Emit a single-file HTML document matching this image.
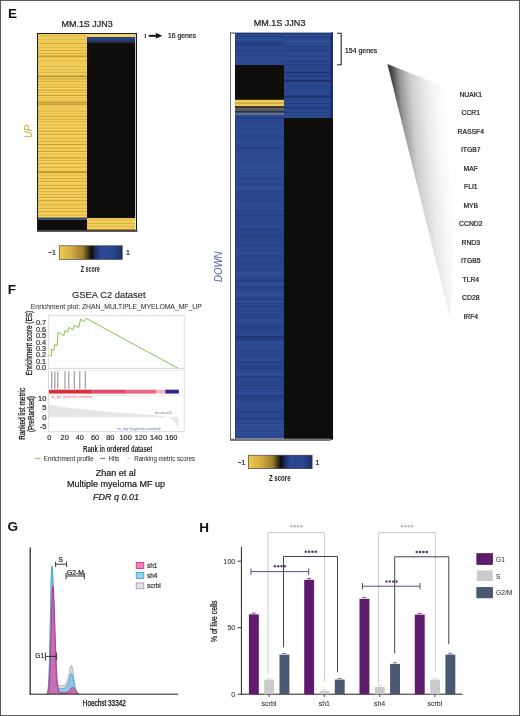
<!DOCTYPE html>
<html><head><meta charset="utf-8"><style>
html,body{margin:0;padding:0;background:#fff;}
svg{display:block;will-change:transform;}
text{font-family:"Liberation Sans",sans-serif;}
</style></head><body>
<svg width="520" height="716" viewBox="0 0 520 716">
<rect x="0" y="0" width="520" height="716" fill="#fff"/>
<text x="8.1" y="18.4" font-size="13.5" fill="#111" text-anchor="start" font-weight="bold" font-style="normal" >E</text>
<text x="61.5" y="26.6" font-size="9" fill="#222" text-anchor="start" font-weight="normal" font-style="normal" textLength="51.2" lengthAdjust="spacingAndGlyphs" stroke="#222" stroke-width="0.22" >MM.1S JJN3</text>
<rect x="38.00" y="34.00" width="49.00" height="184.00" fill="#efca55" />
<rect x="38.00" y="35.50" width="49.00" height="1.40" fill="#e2bc4c" />
<rect x="38.00" y="36.90" width="49.00" height="0.80" fill="#f7d665" />
<rect x="38.00" y="39.00" width="49.00" height="1.40" fill="#e2bc4c" />
<rect x="38.00" y="40.40" width="49.00" height="0.80" fill="#f7d665" />
<rect x="38.00" y="43.00" width="49.00" height="1.00" fill="#d2a83e" />
<rect x="38.00" y="44.00" width="49.00" height="0.80" fill="#f7d665" />
<rect x="38.00" y="47.00" width="49.00" height="1.40" fill="#e2bc4c" />
<rect x="38.00" y="48.40" width="49.00" height="0.80" fill="#f7d665" />
<rect x="38.00" y="50.00" width="49.00" height="0.80" fill="#c89c36" />
<rect x="38.00" y="50.80" width="49.00" height="0.80" fill="#f7d665" />
<rect x="38.00" y="53.20" width="49.00" height="1.00" fill="#d2a83e" />
<rect x="38.00" y="54.20" width="49.00" height="0.80" fill="#f7d665" />
<rect x="38.00" y="57.20" width="49.00" height="0.80" fill="#e2bc4c" />
<rect x="38.00" y="58.00" width="49.00" height="0.80" fill="#f7d665" />
<rect x="38.00" y="60.70" width="49.00" height="1.40" fill="#e2bc4c" />
<rect x="38.00" y="62.10" width="49.00" height="0.80" fill="#f7d665" />
<rect x="38.00" y="63.70" width="49.00" height="0.80" fill="#e2bc4c" />
<rect x="38.00" y="64.50" width="49.00" height="0.80" fill="#f7d665" />
<rect x="38.00" y="66.30" width="49.00" height="0.80" fill="#d2a83e" />
<rect x="38.00" y="67.10" width="49.00" height="0.80" fill="#f7d665" />
<rect x="38.00" y="69.30" width="49.00" height="1.00" fill="#e2bc4c" />
<rect x="38.00" y="70.30" width="49.00" height="0.80" fill="#f7d665" />
<rect x="38.00" y="71.90" width="49.00" height="1.40" fill="#dab446" />
<rect x="38.00" y="73.30" width="49.00" height="0.80" fill="#f7d665" />
<rect x="38.00" y="75.40" width="49.00" height="1.00" fill="#e2bc4c" />
<rect x="38.00" y="76.40" width="49.00" height="0.80" fill="#f7d665" />
<rect x="38.00" y="78.40" width="49.00" height="1.20" fill="#c89c36" />
<rect x="38.00" y="79.60" width="49.00" height="0.80" fill="#f7d665" />
<rect x="38.00" y="81.00" width="49.00" height="0.80" fill="#c89c36" />
<rect x="38.00" y="81.80" width="49.00" height="0.80" fill="#f7d665" />
<rect x="38.00" y="84.20" width="49.00" height="1.40" fill="#e2bc4c" />
<rect x="38.00" y="85.60" width="49.00" height="0.80" fill="#f7d665" />
<rect x="38.00" y="86.80" width="49.00" height="1.20" fill="#dab446" />
<rect x="38.00" y="88.00" width="49.00" height="0.80" fill="#f7d665" />
<rect x="38.00" y="89.80" width="49.00" height="1.20" fill="#d2a83e" />
<rect x="38.00" y="91.00" width="49.00" height="0.80" fill="#f7d665" />
<rect x="38.00" y="92.40" width="49.00" height="0.80" fill="#c89c36" />
<rect x="38.00" y="93.20" width="49.00" height="0.80" fill="#f7d665" />
<rect x="38.00" y="95.00" width="49.00" height="1.20" fill="#c89c36" />
<rect x="38.00" y="96.20" width="49.00" height="0.80" fill="#f7d665" />
<rect x="38.00" y="97.60" width="49.00" height="0.80" fill="#d2a83e" />
<rect x="38.00" y="98.40" width="49.00" height="0.80" fill="#f7d665" />
<rect x="38.00" y="100.60" width="49.00" height="1.00" fill="#d2a83e" />
<rect x="38.00" y="101.60" width="49.00" height="0.80" fill="#f7d665" />
<rect x="38.00" y="104.10" width="49.00" height="1.40" fill="#c89c36" />
<rect x="38.00" y="105.50" width="49.00" height="0.80" fill="#f7d665" />
<rect x="38.00" y="107.60" width="49.00" height="0.80" fill="#e2bc4c" />
<rect x="38.00" y="108.40" width="49.00" height="0.80" fill="#f7d665" />
<rect x="38.00" y="110.60" width="49.00" height="1.20" fill="#dab446" />
<rect x="38.00" y="111.80" width="49.00" height="0.80" fill="#f7d665" />
<rect x="38.00" y="113.20" width="49.00" height="1.20" fill="#dab446" />
<rect x="38.00" y="114.40" width="49.00" height="0.80" fill="#f7d665" />
<rect x="38.00" y="115.80" width="49.00" height="1.40" fill="#d2a83e" />
<rect x="38.00" y="117.20" width="49.00" height="0.80" fill="#f7d665" />
<rect x="38.00" y="118.80" width="49.00" height="1.00" fill="#d2a83e" />
<rect x="38.00" y="119.80" width="49.00" height="0.80" fill="#f7d665" />
<rect x="38.00" y="121.40" width="49.00" height="0.80" fill="#c89c36" />
<rect x="38.00" y="122.20" width="49.00" height="0.80" fill="#f7d665" />
<rect x="38.00" y="124.90" width="49.00" height="1.00" fill="#e2bc4c" />
<rect x="38.00" y="125.90" width="49.00" height="0.80" fill="#f7d665" />
<rect x="38.00" y="127.90" width="49.00" height="1.40" fill="#e2bc4c" />
<rect x="38.00" y="129.30" width="49.00" height="0.80" fill="#f7d665" />
<rect x="38.00" y="130.90" width="49.00" height="1.00" fill="#c89c36" />
<rect x="38.00" y="131.90" width="49.00" height="0.80" fill="#f7d665" />
<rect x="38.00" y="134.40" width="49.00" height="0.80" fill="#c89c36" />
<rect x="38.00" y="135.20" width="49.00" height="0.80" fill="#f7d665" />
<rect x="38.00" y="137.90" width="49.00" height="1.00" fill="#d2a83e" />
<rect x="38.00" y="138.90" width="49.00" height="0.80" fill="#f7d665" />
<rect x="38.00" y="141.10" width="49.00" height="1.20" fill="#d2a83e" />
<rect x="38.00" y="142.30" width="49.00" height="0.80" fill="#f7d665" />
<rect x="38.00" y="144.10" width="49.00" height="1.00" fill="#c89c36" />
<rect x="38.00" y="145.10" width="49.00" height="0.80" fill="#f7d665" />
<rect x="38.00" y="148.10" width="49.00" height="0.80" fill="#d2a83e" />
<rect x="38.00" y="148.90" width="49.00" height="0.80" fill="#f7d665" />
<rect x="38.00" y="151.10" width="49.00" height="1.00" fill="#c89c36" />
<rect x="38.00" y="152.10" width="49.00" height="0.80" fill="#f7d665" />
<rect x="38.00" y="154.30" width="49.00" height="0.80" fill="#e2bc4c" />
<rect x="38.00" y="155.10" width="49.00" height="0.80" fill="#f7d665" />
<rect x="38.00" y="157.50" width="49.00" height="1.20" fill="#c89c36" />
<rect x="38.00" y="158.70" width="49.00" height="0.80" fill="#f7d665" />
<rect x="38.00" y="160.10" width="49.00" height="0.80" fill="#d2a83e" />
<rect x="38.00" y="160.90" width="49.00" height="0.80" fill="#f7d665" />
<rect x="38.00" y="163.10" width="49.00" height="1.00" fill="#d2a83e" />
<rect x="38.00" y="164.10" width="49.00" height="0.80" fill="#f7d665" />
<rect x="38.00" y="167.10" width="49.00" height="1.20" fill="#dab446" />
<rect x="38.00" y="168.30" width="49.00" height="0.80" fill="#f7d665" />
<rect x="38.00" y="171.10" width="49.00" height="1.40" fill="#d2a83e" />
<rect x="38.00" y="172.50" width="49.00" height="0.80" fill="#f7d665" />
<rect x="38.00" y="175.10" width="49.00" height="1.40" fill="#e2bc4c" />
<rect x="38.00" y="176.50" width="49.00" height="0.80" fill="#f7d665" />
<rect x="38.00" y="178.10" width="49.00" height="1.40" fill="#d2a83e" />
<rect x="38.00" y="179.50" width="49.00" height="0.80" fill="#f7d665" />
<rect x="38.00" y="181.10" width="49.00" height="1.20" fill="#d2a83e" />
<rect x="38.00" y="182.30" width="49.00" height="0.80" fill="#f7d665" />
<rect x="38.00" y="185.10" width="49.00" height="1.00" fill="#d2a83e" />
<rect x="38.00" y="186.10" width="49.00" height="0.80" fill="#f7d665" />
<rect x="38.00" y="188.10" width="49.00" height="1.00" fill="#c89c36" />
<rect x="38.00" y="189.10" width="49.00" height="0.80" fill="#f7d665" />
<rect x="38.00" y="191.60" width="49.00" height="0.80" fill="#c89c36" />
<rect x="38.00" y="192.40" width="49.00" height="0.80" fill="#f7d665" />
<rect x="38.00" y="194.20" width="49.00" height="0.80" fill="#d2a83e" />
<rect x="38.00" y="195.00" width="49.00" height="0.80" fill="#f7d665" />
<rect x="38.00" y="196.80" width="49.00" height="1.20" fill="#d2a83e" />
<rect x="38.00" y="198.00" width="49.00" height="0.80" fill="#f7d665" />
<rect x="38.00" y="200.30" width="49.00" height="1.20" fill="#c89c36" />
<rect x="38.00" y="201.50" width="49.00" height="0.80" fill="#f7d665" />
<rect x="38.00" y="204.30" width="49.00" height="1.40" fill="#dab446" />
<rect x="38.00" y="205.70" width="49.00" height="0.80" fill="#f7d665" />
<rect x="38.00" y="208.30" width="49.00" height="1.00" fill="#d2a83e" />
<rect x="38.00" y="209.30" width="49.00" height="0.80" fill="#f7d665" />
<rect x="38.00" y="211.30" width="49.00" height="1.00" fill="#c89c36" />
<rect x="38.00" y="212.30" width="49.00" height="0.80" fill="#f7d665" />
<rect x="38.00" y="215.30" width="49.00" height="0.80" fill="#dab446" />
<rect x="38.00" y="216.10" width="49.00" height="0.80" fill="#f7d665" />
<rect x="38.00" y="75.80" width="49.00" height="1.00" fill="#9a7a2a" />
<rect x="38.00" y="55.50" width="49.00" height="1.40" fill="#c49a36" />
<rect x="38.00" y="102.20" width="49.00" height="1.20" fill="#b08a30" />
<rect x="38.00" y="171.50" width="49.00" height="1.40" fill="#b89032" />
<rect x="38.00" y="217.60" width="49.00" height="2.00" fill="#2a4278" />
<rect x="38.00" y="219.60" width="49.00" height="10.70" fill="#0f0e0c" />
<rect x="87.00" y="34.00" width="48.00" height="3.00" fill="#f3d262" />
<rect x="87.00" y="37.00" width="48.00" height="5.20" fill="#263f82" />
<rect x="87.00" y="41.00" width="48.00" height="1.20" fill="#1c2c5c" />
<rect x="87.00" y="42.20" width="48.00" height="175.80" fill="#0f0e0c" />
<rect x="87.00" y="218.00" width="48.00" height="12.30" fill="#efca55" />
<rect x="87.00" y="219.50" width="48.00" height="1.20" fill="#dab446" />
<rect x="87.00" y="220.70" width="48.00" height="0.80" fill="#f7d665" />
<rect x="87.00" y="223.50" width="48.00" height="0.80" fill="#c89c36" />
<rect x="87.00" y="224.30" width="48.00" height="0.80" fill="#f7d665" />
<rect x="87.00" y="226.50" width="48.00" height="0.80" fill="#d2a83e" />
<rect x="87.00" y="227.30" width="48.00" height="0.80" fill="#f7d665" />
<rect x="87.00" y="229.10" width="48.00" height="1.20" fill="#c89c36" />
<rect x="87.00" y="230.30" width="48.00" height="0.00" fill="#f7d665" />
<rect x="135.00" y="34.00" width="1.50" height="196.30" fill="#c4c4c0" />
<rect x="135.00" y="218.00" width="1.50" height="12.30" fill="#f0ecd0" />
<rect x="37.5" y="33.5" width="99.0" height="196.8" fill="none" stroke="#1a1a1a" stroke-width="1"/>
<rect x="37.00" y="230.20" width="100.50" height="1.70" fill="#4a4a4a" />
<text transform="translate(32.0,138) rotate(-90)" font-size="10.4" fill="#c9a23a" font-style="italic" textLength="13" lengthAdjust="spacingAndGlyphs">UP</text>
<line x1="145.3" y1="33.8" x2="145.3" y2="38" stroke="#222" stroke-width="1"/>
<line x1="148.7" y1="35.8" x2="157" y2="35.8" stroke="#111" stroke-width="1.9"/>
<path d="M155.4,32.8 L162.4,35.8 L155.4,38.8 L156.6,35.8 Z" fill="#111"/>
<text x="168" y="38.3" font-size="7" fill="#222" text-anchor="start" font-weight="normal" font-style="normal" textLength="28" lengthAdjust="spacingAndGlyphs" stroke="#222" stroke-width="0.22" >16 genes</text>
<defs><linearGradient id="cb" x1="0" x2="1" y1="0" y2="0"><stop offset="0" stop-color="#f0ca50"/><stop offset="0.2" stop-color="#d2ac42"/><stop offset="0.38" stop-color="#9a7c2c"/><stop offset="0.47" stop-color="#3c3014"/><stop offset="0.515" stop-color="#0c0b0a"/><stop offset="0.57" stop-color="#1c2c60"/><stop offset="0.66" stop-color="#2c4894"/><stop offset="0.85" stop-color="#2a4690"/><stop offset="1" stop-color="#1e2e66"/></linearGradient><linearGradient id="tri" x1="387.4" y1="63.9" x2="447.2" y2="59.2" gradientUnits="userSpaceOnUse"><stop offset="0" stop-color="#2a2a2a"/><stop offset="0.083" stop-color="#555555"/><stop offset="0.183" stop-color="#959595"/><stop offset="0.367" stop-color="#cecece"/><stop offset="0.6" stop-color="#ebebeb"/><stop offset="0.733" stop-color="#f5f5f5"/><stop offset="0.917" stop-color="#ffffff"/></linearGradient></defs>
<rect x="59.2" y="245.8" width="63" height="13.6" fill="url(#cb)" stroke="#333" stroke-width="0.6"/>
<text x="48" y="255" font-size="7" fill="#222" text-anchor="start" font-weight="normal" font-style="normal" stroke="#222" stroke-width="0.22" >−1</text>
<text x="126" y="255" font-size="7" fill="#222" text-anchor="start" font-weight="normal" font-style="normal" stroke="#222" stroke-width="0.22" >1</text>
<text x="80.8" y="272" font-size="8.6" fill="#222" text-anchor="start" font-weight="bold" font-style="normal" textLength="19" lengthAdjust="spacingAndGlyphs" >Z score</text>
<rect x="230.00" y="32.60" width="103.00" height="408.00" fill="#fff" />
<rect x="235.00" y="33.00" width="49.00" height="32.00" fill="#2b488e" />
<rect x="235.00" y="65.00" width="49.00" height="35.00" fill="#0f0e0c" />
<rect x="235.00" y="99.80" width="49.00" height="6.30" fill="#eecb58" />
<rect x="235.00" y="102.60" width="49.00" height="1.00" fill="#bc9c3c" />
<rect x="235.00" y="106.10" width="49.00" height="2.10" fill="#2e2c2a" />
<rect x="235.00" y="108.20" width="49.00" height="2.70" fill="#555558" />
<rect x="235.00" y="110.90" width="49.00" height="2.00" fill="#2c3040" />
<rect x="235.00" y="112.90" width="49.00" height="2.00" fill="#5a6a90" />
<rect x="235.00" y="114.90" width="49.00" height="323.70" fill="#2b488e" />
<rect x="284.00" y="33.00" width="47.00" height="85.00" fill="#2b488e" />
<rect x="284.00" y="118.00" width="49.00" height="321.60" fill="#0f0e0c" />
<rect x="235.00" y="34.00" width="49.00" height="0.80" fill="#2e4b92" />
<rect x="235.00" y="35.80" width="49.00" height="1.00" fill="#253f80" />
<rect x="235.00" y="38.80" width="49.00" height="1.30" fill="#30509a" />
<rect x="235.00" y="42.80" width="49.00" height="1.30" fill="#22397a" />
<rect x="235.00" y="44.60" width="49.00" height="1.30" fill="#253f80" />
<rect x="235.00" y="47.60" width="49.00" height="1.30" fill="#2e4b92" />
<rect x="235.00" y="49.40" width="49.00" height="1.30" fill="#284488" />
<rect x="235.00" y="53.40" width="49.00" height="0.80" fill="#2e4b92" />
<rect x="235.00" y="55.20" width="49.00" height="1.00" fill="#253f80" />
<rect x="235.00" y="57.00" width="49.00" height="0.60" fill="#32529c" />
<rect x="235.00" y="60.50" width="49.00" height="0.60" fill="#30509a" />
<rect x="235.00" y="116.00" width="49.00" height="0.60" fill="#253f80" />
<rect x="235.00" y="117.80" width="49.00" height="1.00" fill="#22397a" />
<rect x="235.00" y="121.80" width="49.00" height="1.00" fill="#284488" />
<rect x="235.00" y="125.30" width="49.00" height="0.80" fill="#2e4b92" />
<rect x="235.00" y="127.10" width="49.00" height="0.80" fill="#30509a" />
<rect x="235.00" y="131.10" width="49.00" height="1.30" fill="#32529c" />
<rect x="235.00" y="134.60" width="49.00" height="1.00" fill="#2e4b92" />
<rect x="235.00" y="137.60" width="49.00" height="1.00" fill="#253f80" />
<rect x="235.00" y="139.40" width="49.00" height="1.00" fill="#30509a" />
<rect x="235.00" y="142.00" width="49.00" height="1.30" fill="#30509a" />
<rect x="235.00" y="145.50" width="49.00" height="0.80" fill="#2e4b92" />
<rect x="235.00" y="147.70" width="49.00" height="0.80" fill="#22397a" />
<rect x="235.00" y="149.50" width="49.00" height="0.80" fill="#284488" />
<rect x="235.00" y="151.70" width="49.00" height="0.80" fill="#2e4b92" />
<rect x="235.00" y="155.20" width="49.00" height="1.00" fill="#2e4b92" />
<rect x="235.00" y="159.20" width="49.00" height="0.80" fill="#30509a" />
<rect x="235.00" y="162.20" width="49.00" height="1.00" fill="#2e4b92" />
<rect x="235.00" y="164.80" width="49.00" height="1.00" fill="#30509a" />
<rect x="235.00" y="167.00" width="49.00" height="1.30" fill="#32529c" />
<rect x="235.00" y="171.00" width="49.00" height="1.30" fill="#32529c" />
<rect x="235.00" y="174.50" width="49.00" height="0.80" fill="#30509a" />
<rect x="235.00" y="177.10" width="49.00" height="1.30" fill="#2e4b92" />
<rect x="235.00" y="180.60" width="49.00" height="1.00" fill="#32529c" />
<rect x="235.00" y="183.60" width="49.00" height="1.30" fill="#284488" />
<rect x="235.00" y="187.10" width="49.00" height="1.30" fill="#30509a" />
<rect x="235.00" y="191.10" width="49.00" height="0.80" fill="#284488" />
<rect x="235.00" y="195.10" width="49.00" height="0.80" fill="#2e4b92" />
<rect x="235.00" y="197.70" width="49.00" height="1.30" fill="#284488" />
<rect x="235.00" y="200.30" width="49.00" height="1.30" fill="#284488" />
<rect x="235.00" y="204.30" width="49.00" height="0.80" fill="#30509a" />
<rect x="235.00" y="207.80" width="49.00" height="1.00" fill="#32529c" />
<rect x="235.00" y="211.30" width="49.00" height="0.60" fill="#284488" />
<rect x="235.00" y="215.30" width="49.00" height="0.60" fill="#22397a" />
<rect x="235.00" y="219.30" width="49.00" height="0.60" fill="#253f80" />
<rect x="235.00" y="222.80" width="49.00" height="0.60" fill="#284488" />
<rect x="235.00" y="226.30" width="49.00" height="0.80" fill="#32529c" />
<rect x="235.00" y="228.10" width="49.00" height="0.80" fill="#284488" />
<rect x="235.00" y="230.30" width="49.00" height="0.80" fill="#253f80" />
<rect x="235.00" y="233.30" width="49.00" height="0.60" fill="#253f80" />
<rect x="235.00" y="235.90" width="49.00" height="1.00" fill="#22397a" />
<rect x="235.00" y="238.10" width="49.00" height="0.60" fill="#253f80" />
<rect x="235.00" y="239.90" width="49.00" height="0.60" fill="#253f80" />
<rect x="235.00" y="241.70" width="49.00" height="0.60" fill="#284488" />
<rect x="235.00" y="244.30" width="49.00" height="0.80" fill="#22397a" />
<rect x="235.00" y="248.30" width="49.00" height="0.80" fill="#2e4b92" />
<rect x="235.00" y="252.30" width="49.00" height="0.60" fill="#30509a" />
<rect x="235.00" y="255.80" width="49.00" height="0.60" fill="#22397a" />
<rect x="235.00" y="258.00" width="49.00" height="0.60" fill="#253f80" />
<rect x="235.00" y="260.60" width="49.00" height="0.60" fill="#284488" />
<rect x="235.00" y="263.20" width="49.00" height="1.30" fill="#253f80" />
<rect x="235.00" y="265.80" width="49.00" height="1.30" fill="#2e4b92" />
<rect x="235.00" y="269.30" width="49.00" height="0.60" fill="#284488" />
<rect x="235.00" y="272.30" width="49.00" height="0.80" fill="#30509a" />
<rect x="235.00" y="274.50" width="49.00" height="0.60" fill="#32529c" />
<rect x="235.00" y="278.50" width="49.00" height="1.00" fill="#253f80" />
<rect x="235.00" y="280.30" width="49.00" height="1.30" fill="#22397a" />
<rect x="235.00" y="283.80" width="49.00" height="1.30" fill="#30509a" />
<rect x="235.00" y="287.30" width="49.00" height="1.00" fill="#22397a" />
<rect x="235.00" y="289.90" width="49.00" height="1.00" fill="#284488" />
<rect x="235.00" y="293.40" width="49.00" height="1.30" fill="#32529c" />
<rect x="235.00" y="295.20" width="49.00" height="0.80" fill="#32529c" />
<rect x="235.00" y="297.00" width="49.00" height="1.00" fill="#253f80" />
<rect x="235.00" y="299.20" width="49.00" height="0.80" fill="#22397a" />
<rect x="235.00" y="301.00" width="49.00" height="1.30" fill="#32529c" />
<rect x="235.00" y="303.20" width="49.00" height="0.60" fill="#22397a" />
<rect x="235.00" y="305.40" width="49.00" height="1.30" fill="#253f80" />
<rect x="235.00" y="308.00" width="49.00" height="0.60" fill="#2e4b92" />
<rect x="235.00" y="310.20" width="49.00" height="1.00" fill="#284488" />
<rect x="235.00" y="314.20" width="49.00" height="1.30" fill="#284488" />
<rect x="235.00" y="317.70" width="49.00" height="0.60" fill="#22397a" />
<rect x="235.00" y="319.50" width="49.00" height="1.30" fill="#30509a" />
<rect x="235.00" y="321.70" width="49.00" height="0.60" fill="#2e4b92" />
<rect x="235.00" y="325.70" width="49.00" height="0.60" fill="#22397a" />
<rect x="235.00" y="327.50" width="49.00" height="0.60" fill="#253f80" />
<rect x="235.00" y="329.70" width="49.00" height="0.80" fill="#253f80" />
<rect x="235.00" y="331.90" width="49.00" height="0.60" fill="#2e4b92" />
<rect x="235.00" y="335.90" width="49.00" height="1.30" fill="#30509a" />
<rect x="235.00" y="338.50" width="49.00" height="1.30" fill="#22397a" />
<rect x="235.00" y="342.50" width="49.00" height="0.80" fill="#32529c" />
<rect x="235.00" y="345.50" width="49.00" height="1.30" fill="#2e4b92" />
<rect x="235.00" y="347.30" width="49.00" height="0.60" fill="#30509a" />
<rect x="235.00" y="350.80" width="49.00" height="0.80" fill="#253f80" />
<rect x="235.00" y="354.80" width="49.00" height="1.30" fill="#284488" />
<rect x="235.00" y="356.60" width="49.00" height="0.60" fill="#2e4b92" />
<rect x="235.00" y="359.20" width="49.00" height="1.00" fill="#32529c" />
<rect x="235.00" y="361.80" width="49.00" height="1.00" fill="#253f80" />
<rect x="235.00" y="365.80" width="49.00" height="1.30" fill="#253f80" />
<rect x="235.00" y="367.60" width="49.00" height="1.00" fill="#22397a" />
<rect x="235.00" y="371.60" width="49.00" height="0.60" fill="#30509a" />
<rect x="235.00" y="373.40" width="49.00" height="1.30" fill="#32529c" />
<rect x="235.00" y="376.40" width="49.00" height="1.30" fill="#22397a" />
<rect x="235.00" y="379.90" width="49.00" height="0.60" fill="#253f80" />
<rect x="235.00" y="382.50" width="49.00" height="0.60" fill="#284488" />
<rect x="235.00" y="385.10" width="49.00" height="0.60" fill="#22397a" />
<rect x="235.00" y="388.10" width="49.00" height="0.80" fill="#253f80" />
<rect x="235.00" y="391.60" width="49.00" height="1.00" fill="#30509a" />
<rect x="235.00" y="395.60" width="49.00" height="1.30" fill="#22397a" />
<rect x="235.00" y="398.20" width="49.00" height="1.30" fill="#253f80" />
<rect x="235.00" y="400.80" width="49.00" height="0.60" fill="#253f80" />
<rect x="235.00" y="402.60" width="49.00" height="1.00" fill="#32529c" />
<rect x="235.00" y="405.60" width="49.00" height="0.80" fill="#32529c" />
<rect x="235.00" y="407.40" width="49.00" height="0.60" fill="#2e4b92" />
<rect x="235.00" y="411.40" width="49.00" height="1.30" fill="#253f80" />
<rect x="235.00" y="415.40" width="49.00" height="1.30" fill="#284488" />
<rect x="235.00" y="418.00" width="49.00" height="1.30" fill="#22397a" />
<rect x="235.00" y="420.60" width="49.00" height="1.00" fill="#30509a" />
<rect x="235.00" y="424.10" width="49.00" height="1.30" fill="#32529c" />
<rect x="235.00" y="428.10" width="49.00" height="1.30" fill="#30509a" />
<rect x="235.00" y="432.10" width="49.00" height="1.00" fill="#30509a" />
<rect x="235.00" y="434.30" width="49.00" height="0.80" fill="#30509a" />
<rect x="284.00" y="34.00" width="47.00" height="0.80" fill="#2e4b92" />
<rect x="284.00" y="37.50" width="47.00" height="0.80" fill="#284488" />
<rect x="284.00" y="41.00" width="47.00" height="1.30" fill="#32529c" />
<rect x="284.00" y="44.50" width="47.00" height="0.60" fill="#2e4b92" />
<rect x="284.00" y="46.30" width="47.00" height="1.30" fill="#284488" />
<rect x="284.00" y="49.80" width="47.00" height="0.80" fill="#22397a" />
<rect x="284.00" y="53.80" width="47.00" height="1.30" fill="#2e4b92" />
<rect x="284.00" y="57.30" width="47.00" height="1.30" fill="#30509a" />
<rect x="284.00" y="61.30" width="47.00" height="0.80" fill="#22397a" />
<rect x="284.00" y="64.00" width="47.00" height="1.80" fill="#243c80" />
<rect x="284.00" y="67.70" width="47.00" height="1.30" fill="#27418a" />
<rect x="284.00" y="71.50" width="47.00" height="1.90" fill="#1f3470" />
<rect x="284.00" y="75.30" width="47.00" height="1.50" fill="#26408a" />
<rect x="284.00" y="79.70" width="47.00" height="2.10" fill="#1c2f68" />
<rect x="284.00" y="85.30" width="47.00" height="2.60" fill="#2a4590" />
<rect x="284.00" y="90.50" width="47.00" height="1.00" fill="#27418a" />
<rect x="284.00" y="95.40" width="47.00" height="2.50" fill="#1f3470" />
<rect x="284.00" y="100.00" width="47.00" height="1.00" fill="#2a4590" />
<rect x="284.00" y="103.00" width="47.00" height="1.20" fill="#243c80" />
<rect x="284.00" y="106.70" width="47.00" height="1.90" fill="#22397a" />
<rect x="284.00" y="111.80" width="47.00" height="1.20" fill="#243c80" />
<rect x="284.00" y="115.00" width="47.00" height="1.00" fill="#2a4590" />
<rect x="235.00" y="33.00" width="1.00" height="32.00" fill="#23407f" />
<rect x="235.00" y="114.90" width="1.00" height="323.70" fill="#23407f" />
<rect x="330.50" y="32.60" width="2.50" height="85.40" fill="#1d2d6a" />
<rect x="235.00" y="336.20" width="49.00" height="1.30" fill="#1f3068" />
<rect x="230.00" y="32.60" width="103.00" height="0.90" fill="#1d2c66" />
<line x1="230.5" y1="32.6" x2="230.5" y2="440.6" stroke="#6c6c6c" stroke-width="1"/>
<rect x="230.00" y="438.60" width="100.50" height="2.40" fill="#7a7a7a" />
<text x="253.8" y="26.4" font-size="9" fill="#222" text-anchor="start" font-weight="normal" font-style="normal" textLength="51.6" lengthAdjust="spacingAndGlyphs" stroke="#222" stroke-width="0.22" >MM.1S JJN3</text>
<text transform="translate(222.4,282) rotate(-90)" font-size="10.4" fill="#4c62a0" font-style="italic" textLength="30.6" lengthAdjust="spacingAndGlyphs">DOWN</text>
<path d="M337,33.2 H341.2 V64.8 H337" fill="none" stroke="#2a2a2a" stroke-width="1.1"/>
<text x="345" y="53" font-size="7" fill="#222" text-anchor="start" font-weight="normal" font-style="normal" textLength="32.3" lengthAdjust="spacingAndGlyphs" stroke="#222" stroke-width="0.22" >154 genes</text>
<path d="M387.4,63.9 L462,93.7 L450.4,320.5 Z" fill="url(#tri)"/>
<text x="470.8" y="96.7" font-size="6.8" fill="#222" text-anchor="middle" font-weight="normal" font-style="normal" stroke="#222" stroke-width="0.22" >NUAK1</text>
<text x="470.8" y="115.2" font-size="6.8" fill="#222" text-anchor="middle" font-weight="normal" font-style="normal" stroke="#222" stroke-width="0.22" >CCR1</text>
<text x="470.8" y="133.7" font-size="6.8" fill="#222" text-anchor="middle" font-weight="normal" font-style="normal" stroke="#222" stroke-width="0.22" >RASSF4</text>
<text x="470.8" y="152.2" font-size="6.8" fill="#222" text-anchor="middle" font-weight="normal" font-style="normal" stroke="#222" stroke-width="0.22" >ITGB7</text>
<text x="470.8" y="170.7" font-size="6.8" fill="#222" text-anchor="middle" font-weight="normal" font-style="normal" stroke="#222" stroke-width="0.22" >MAF</text>
<text x="470.8" y="189.2" font-size="6.8" fill="#222" text-anchor="middle" font-weight="normal" font-style="normal" stroke="#222" stroke-width="0.22" >FLI1</text>
<text x="470.8" y="207.7" font-size="6.8" fill="#222" text-anchor="middle" font-weight="normal" font-style="normal" stroke="#222" stroke-width="0.22" >MYB</text>
<text x="470.8" y="226.2" font-size="6.8" fill="#222" text-anchor="middle" font-weight="normal" font-style="normal" stroke="#222" stroke-width="0.22" >CCND2</text>
<text x="470.8" y="244.7" font-size="6.8" fill="#222" text-anchor="middle" font-weight="normal" font-style="normal" stroke="#222" stroke-width="0.22" >RND3</text>
<text x="470.8" y="263.2" font-size="6.8" fill="#222" text-anchor="middle" font-weight="normal" font-style="normal" stroke="#222" stroke-width="0.22" >ITGB5</text>
<text x="470.8" y="281.7" font-size="6.8" fill="#222" text-anchor="middle" font-weight="normal" font-style="normal" stroke="#222" stroke-width="0.22" >TLR4</text>
<text x="470.8" y="300.2" font-size="6.8" fill="#222" text-anchor="middle" font-weight="normal" font-style="normal" stroke="#222" stroke-width="0.22" >CD28</text>
<text x="470.8" y="318.7" font-size="6.8" fill="#222" text-anchor="middle" font-weight="normal" font-style="normal" stroke="#222" stroke-width="0.22" >IRF4</text>
<rect x="248.3" y="455.2" width="63.8" height="13.5" fill="url(#cb)" stroke="#333" stroke-width="0.6"/>
<text x="237.5" y="464.5" font-size="7" fill="#222" text-anchor="start" font-weight="normal" font-style="normal" stroke="#222" stroke-width="0.22" >−1</text>
<text x="315.5" y="464.5" font-size="7" fill="#222" text-anchor="start" font-weight="normal" font-style="normal" stroke="#222" stroke-width="0.22" >1</text>
<text x="269" y="481" font-size="8.8" fill="#222" text-anchor="start" font-weight="bold" font-style="normal" textLength="21.5" lengthAdjust="spacingAndGlyphs" >Z score</text>
<text x="7.7" y="293.8" font-size="13.5" fill="#111" text-anchor="start" font-weight="bold" font-style="normal" >F</text>
<text x="72" y="297.7" font-size="9.2" fill="#222" text-anchor="start" font-weight="normal" font-style="normal" textLength="73.5" lengthAdjust="spacingAndGlyphs" stroke="#222" stroke-width="0.1" >GSEA C2 dataset</text>
<text x="30.8" y="308.5" font-size="6.9" fill="#333" text-anchor="start" font-weight="normal" font-style="normal" textLength="171" lengthAdjust="spacingAndGlyphs" stroke="#333" stroke-width="0.05" >Enrichment plot: ZHAN_MULTIPLE_MYELOMA_MF_UP</text>
<rect x="48.6" y="315.6" width="135.6" height="115.79999999999995" fill="none" stroke="#d8d8d8" stroke-width="0.8"/>
<line x1="48.6" y1="368.0" x2="184.2" y2="368.0" stroke="#f7f7f7" stroke-width="0.5"/>
<line x1="48.6" y1="361.5" x2="184.2" y2="361.5" stroke="#f7f7f7" stroke-width="0.5"/>
<line x1="48.6" y1="355.0" x2="184.2" y2="355.0" stroke="#f7f7f7" stroke-width="0.5"/>
<line x1="48.6" y1="348.5" x2="184.2" y2="348.5" stroke="#f7f7f7" stroke-width="0.5"/>
<line x1="48.6" y1="342.0" x2="184.2" y2="342.0" stroke="#f7f7f7" stroke-width="0.5"/>
<line x1="48.6" y1="335.5" x2="184.2" y2="335.5" stroke="#f7f7f7" stroke-width="0.5"/>
<line x1="48.6" y1="329.0" x2="184.2" y2="329.0" stroke="#f7f7f7" stroke-width="0.5"/>
<line x1="48.6" y1="322.5" x2="184.2" y2="322.5" stroke="#f7f7f7" stroke-width="0.5"/>
<line x1="64" y1="315.6" x2="64" y2="368" stroke="#f7f7f7" stroke-width="0.5"/>
<line x1="79.5" y1="315.6" x2="79.5" y2="368" stroke="#f7f7f7" stroke-width="0.5"/>
<line x1="95" y1="315.6" x2="95" y2="368" stroke="#f7f7f7" stroke-width="0.5"/>
<line x1="110" y1="315.6" x2="110" y2="368" stroke="#f7f7f7" stroke-width="0.5"/>
<line x1="125.5" y1="315.6" x2="125.5" y2="368" stroke="#f7f7f7" stroke-width="0.5"/>
<line x1="141" y1="315.6" x2="141" y2="368" stroke="#f7f7f7" stroke-width="0.5"/>
<line x1="156.5" y1="315.6" x2="156.5" y2="368" stroke="#f7f7f7" stroke-width="0.5"/>
<line x1="172" y1="315.6" x2="172" y2="368" stroke="#f7f7f7" stroke-width="0.5"/>
<line x1="48.6" y1="368.4" x2="184.2" y2="368.4" stroke="#bbb" stroke-width="0.6"/>
<line x1="48.6" y1="370.6" x2="184.2" y2="370.6" stroke="#e0e0e0" stroke-width="0.6"/>
<text x="46.2" y="370.40000000000003" font-size="7.6" fill="#333" text-anchor="end" font-weight="normal" font-style="normal" textLength="10.2" lengthAdjust="spacingAndGlyphs" stroke="#333" stroke-width="0.22" >0.0</text>
<text x="46.2" y="363.93" font-size="7.6" fill="#333" text-anchor="end" font-weight="normal" font-style="normal" textLength="10.2" lengthAdjust="spacingAndGlyphs" stroke="#333" stroke-width="0.22" >0.1</text>
<text x="46.2" y="357.46000000000004" font-size="7.6" fill="#333" text-anchor="end" font-weight="normal" font-style="normal" textLength="10.2" lengthAdjust="spacingAndGlyphs" stroke="#333" stroke-width="0.22" >0.2</text>
<text x="46.2" y="350.99" font-size="7.6" fill="#333" text-anchor="end" font-weight="normal" font-style="normal" textLength="10.2" lengthAdjust="spacingAndGlyphs" stroke="#333" stroke-width="0.22" >0.3</text>
<text x="46.2" y="344.52000000000004" font-size="7.6" fill="#333" text-anchor="end" font-weight="normal" font-style="normal" textLength="10.2" lengthAdjust="spacingAndGlyphs" stroke="#333" stroke-width="0.22" >0.4</text>
<text x="46.2" y="338.05" font-size="7.6" fill="#333" text-anchor="end" font-weight="normal" font-style="normal" textLength="10.2" lengthAdjust="spacingAndGlyphs" stroke="#333" stroke-width="0.22" >0.5</text>
<text x="46.2" y="331.58000000000004" font-size="7.6" fill="#333" text-anchor="end" font-weight="normal" font-style="normal" textLength="10.2" lengthAdjust="spacingAndGlyphs" stroke="#333" stroke-width="0.22" >0.6</text>
<text x="46.2" y="325.11" font-size="7.6" fill="#333" text-anchor="end" font-weight="normal" font-style="normal" textLength="10.2" lengthAdjust="spacingAndGlyphs" stroke="#333" stroke-width="0.22" >0.7</text>
<text transform="translate(32.4,375.4) rotate(-90)" font-size="9.2" fill="#222" stroke="#222" stroke-width="0.3" textLength="64.6" lengthAdjust="spacingAndGlyphs">Enrichment score (ES)</text>
<polyline points="49.3,355.3 51.2,356.2 51.7,349 54.1,350.5 54.6,344.7 57.3,345.5 58,332.2 63.75,335.6 65.2,330.3 67.6,332.2 69,327.4 72.9,329.8 74.3,325.5 78.7,327.4 80.6,319.2 84.4,321.6 85.9,318.25 177.8,368.2" fill="none" stroke="#86bc48" stroke-width="0.95"/>
<line x1="51.75" y1="371.4" x2="51.75" y2="388.8" stroke="#7a7a7a" stroke-width="0.9"/>
<line x1="54.9" y1="371.4" x2="54.9" y2="388.8" stroke="#7a7a7a" stroke-width="0.9"/>
<line x1="57.8" y1="371.4" x2="57.8" y2="388.8" stroke="#7a7a7a" stroke-width="0.9"/>
<line x1="65.0" y1="371.4" x2="65.0" y2="388.8" stroke="#7a7a7a" stroke-width="0.9"/>
<line x1="68.8" y1="371.4" x2="68.8" y2="388.8" stroke="#7a7a7a" stroke-width="0.9"/>
<line x1="74.3" y1="371.4" x2="74.3" y2="388.8" stroke="#7a7a7a" stroke-width="0.9"/>
<line x1="79.8" y1="371.4" x2="79.8" y2="388.8" stroke="#7a7a7a" stroke-width="0.9"/>
<line x1="85.3" y1="371.4" x2="85.3" y2="388.8" stroke="#7a7a7a" stroke-width="0.9"/>
<rect x="49.00" y="389.70" width="43.40" height="3.90" fill="#d9303e" />
<rect x="92.40" y="389.70" width="33.50" height="3.90" fill="#e24c66" />
<rect x="125.90" y="389.70" width="30.60" height="3.90" fill="#ea6a7e" />
<rect x="156.50" y="389.70" width="8.80" height="3.90" fill="#f4b4cc" />
<rect x="165.30" y="389.70" width="13.60" height="3.90" fill="#3b2386" />
<text x="51" y="397.5" font-size="2.6" fill="#e86070" text-anchor="start" font-weight="normal" font-style="normal" textLength="41" lengthAdjust="spacingAndGlyphs" >'na_pos' (positively correlated)</text>
<line x1="48.6" y1="395.5" x2="184.2" y2="395.5" stroke="#e0e0e0" stroke-width="0.6"/>
<path d="M49,417.2 L49,404.5 L60,406.5 L75,408.5 L95,410.5 L115,412.2 L135,413.8 L150,414.8 L157,415.5 L165,416.5 L170,418 L174,421 L177,426 L178.5,428.5 L178.5,417.2 Z" fill="#e6e6e6"/>
<text x="46.5" y="401.1" font-size="7.6" fill="#333" text-anchor="end" font-weight="normal" font-style="normal" stroke="#333" stroke-width="0.22" >10</text>
<text x="46.5" y="410.45000000000005" font-size="7.6" fill="#333" text-anchor="end" font-weight="normal" font-style="normal" stroke="#333" stroke-width="0.22" >5</text>
<text x="46.5" y="419.8" font-size="7.6" fill="#333" text-anchor="end" font-weight="normal" font-style="normal" stroke="#333" stroke-width="0.22" >0</text>
<text x="46.5" y="429.15000000000003" font-size="7.6" fill="#333" text-anchor="end" font-weight="normal" font-style="normal" stroke="#333" stroke-width="0.22" >-5</text>
<text transform="translate(24.6,439.8) rotate(-90)" font-size="8.8" fill="#222" stroke="#222" stroke-width="0.3" textLength="52" lengthAdjust="spacingAndGlyphs">Ranked list metric</text>
<text transform="translate(34.4,432.1) rotate(-90)" font-size="8.8" fill="#222" stroke="#222" stroke-width="0.3" textLength="36" lengthAdjust="spacingAndGlyphs">(PreRanked)</text>
<text x="155" y="414" font-size="2.6" fill="#666" text-anchor="start" font-weight="normal" font-style="normal" textLength="17" lengthAdjust="spacingAndGlyphs" >Zero cross at 150</text>
<text x="117" y="430" font-size="2.6" fill="#6070b8" text-anchor="start" font-weight="normal" font-style="normal" textLength="43.6" lengthAdjust="spacingAndGlyphs" >'na_neg' (negatively correlated)</text>
<text x="49.4" y="440" font-size="7.4" fill="#333" text-anchor="middle" font-weight="normal" font-style="normal" stroke="#333" stroke-width="0.22" >0</text>
<text x="64.64" y="440" font-size="7.4" fill="#333" text-anchor="middle" font-weight="normal" font-style="normal" stroke="#333" stroke-width="0.22" >20</text>
<text x="79.88" y="440" font-size="7.4" fill="#333" text-anchor="middle" font-weight="normal" font-style="normal" stroke="#333" stroke-width="0.22" >40</text>
<text x="95.12" y="440" font-size="7.4" fill="#333" text-anchor="middle" font-weight="normal" font-style="normal" stroke="#333" stroke-width="0.22" >60</text>
<text x="110.36" y="440" font-size="7.4" fill="#333" text-anchor="middle" font-weight="normal" font-style="normal" stroke="#333" stroke-width="0.22" >80</text>
<text x="125.6" y="440" font-size="7.4" fill="#333" text-anchor="middle" font-weight="normal" font-style="normal" stroke="#333" stroke-width="0.22" >100</text>
<text x="140.84" y="440" font-size="7.4" fill="#333" text-anchor="middle" font-weight="normal" font-style="normal" stroke="#333" stroke-width="0.22" >120</text>
<text x="156.08" y="440" font-size="7.4" fill="#333" text-anchor="middle" font-weight="normal" font-style="normal" stroke="#333" stroke-width="0.22" >140</text>
<text x="171.32" y="440" font-size="7.4" fill="#333" text-anchor="middle" font-weight="normal" font-style="normal" stroke="#333" stroke-width="0.22" >160</text>
<text x="83" y="451.5" font-size="8.6" fill="#222" text-anchor="start" font-weight="bold" font-style="normal" textLength="69.2" lengthAdjust="spacingAndGlyphs" >Rank in ordered dataset</text>
<line x1="35" y1="458.5" x2="40.6" y2="458.5" stroke="#b0cc78" stroke-width="1.4"/>
<text x="43.8" y="460.7" font-size="6.6" fill="#333" text-anchor="start" font-weight="normal" font-style="normal" textLength="50" lengthAdjust="spacingAndGlyphs" stroke="#333" stroke-width="0.05" >Enrichment profile</text>
<line x1="100.3" y1="458.5" x2="105.2" y2="458.5" stroke="#777" stroke-width="1.2"/>
<text x="108.6" y="460.7" font-size="6.6" fill="#333" text-anchor="start" font-weight="normal" font-style="normal" textLength="10.6" lengthAdjust="spacingAndGlyphs" stroke="#333" stroke-width="0.05" >Hits</text>
<line x1="126.9" y1="458.5" x2="130.8" y2="458.5" stroke="#d8d8d8" stroke-width="1.2"/>
<text x="134.2" y="460.7" font-size="6.6" fill="#333" text-anchor="start" font-weight="normal" font-style="normal" textLength="61" lengthAdjust="spacingAndGlyphs" stroke="#333" stroke-width="0.05" >Ranking metric scores</text>
<text x="115.8" y="476.4" font-size="9" fill="#222" text-anchor="middle" font-weight="normal" font-style="normal" stroke="#222" stroke-width="0.22" >Zhan et al</text>
<text x="116" y="487" font-size="9" fill="#222" text-anchor="middle" font-weight="normal" font-style="normal" stroke="#222" stroke-width="0.22" >Multiple myeloma MF up</text>
<text x="116" y="499.7" font-size="9" fill="#222" text-anchor="middle" font-weight="normal" font-style="italic" stroke="#222" stroke-width="0.22" >FDR q 0.01</text>
<text x="7.6" y="531.3" font-size="13.5" fill="#111" text-anchor="start" font-weight="bold" font-style="normal" >G</text>
<path d="M40,694 L40.00,694.00 L40.20,694.00 L40.40,694.00 L40.60,694.00 L40.80,694.00 L41.00,694.00 L41.20,694.00 L41.40,694.00 L41.60,694.00 L41.80,694.00 L42.00,694.00 L42.20,694.00 L42.40,694.00 L42.60,694.00 L42.80,694.00 L43.00,694.00 L43.20,694.00 L43.40,694.00 L43.60,694.00 L43.80,694.00 L44.00,694.00 L44.20,694.00 L44.40,694.00 L44.60,694.00 L44.80,694.00 L45.00,694.00 L45.20,694.00 L45.40,693.99 L45.60,693.99 L45.80,693.98 L46.00,693.96 L46.20,693.93 L46.40,693.88 L46.60,693.81 L46.80,693.69 L47.00,693.51 L47.20,693.24 L47.40,692.85 L47.60,692.28 L47.80,691.48 L48.00,690.37 L48.20,688.87 L48.40,686.87 L48.60,684.27 L48.80,680.95 L49.00,676.81 L49.20,671.76 L49.40,665.73 L49.60,658.69 L49.80,650.68 L50.00,641.79 L50.20,632.18 L50.40,622.10 L50.60,611.84 L50.80,601.78 L51.00,592.31 L51.20,583.84 L51.40,576.76 L51.60,571.44 L51.80,568.12 L52.00,567.00 L52.20,567.57 L52.40,569.28 L52.60,572.08 L52.80,575.89 L53.00,580.61 L53.20,586.13 L53.40,592.31 L53.60,598.99 L53.80,606.04 L54.00,613.24 L54.20,620.54 L54.40,627.77 L54.60,634.81 L54.80,641.54 L55.00,647.89 L55.20,653.78 L55.40,659.15 L55.60,663.96 L55.80,668.21 L56.00,671.87 L56.20,674.96 L56.40,677.50 L56.60,679.53 L56.80,681.11 L57.00,682.29 L57.20,683.16 L57.40,683.78 L57.60,684.23 L57.80,684.55 L58.00,684.78 L58.20,684.96 L58.40,685.10 L58.60,685.20 L58.80,685.28 L59.00,685.34 L59.20,685.39 L59.40,685.42 L59.60,685.45 L59.80,685.47 L60.00,685.48 L60.20,685.49 L60.40,685.49 L60.60,685.50 L60.80,685.50 L61.00,685.50 L61.20,685.50 L61.40,685.50 L61.60,685.49 L61.80,685.49 L62.00,685.49 L62.20,685.48 L62.40,685.47 L62.60,685.46 L62.80,685.45 L63.00,685.43 L63.20,685.41 L63.40,685.38 L63.60,685.34 L63.80,685.29 L64.00,685.23 L64.20,685.16 L64.40,685.07 L64.60,684.95 L64.80,684.82 L65.00,684.65 L65.20,684.46 L65.40,684.23 L65.60,683.97 L65.80,683.67 L66.00,683.33 L66.20,682.95 L66.40,682.54 L66.60,682.10 L66.80,681.64 L67.00,681.16 L67.20,680.68 L67.40,680.19 L67.60,679.69 L67.80,679.17 L68.00,678.60 L68.20,677.96 L68.40,677.24 L68.60,676.40 L68.80,675.47 L69.00,674.44 L69.20,673.34 L69.40,672.20 L69.60,671.06 L69.80,669.94 L70.00,668.88 L70.20,667.92 L70.40,667.07 L70.60,666.36 L70.80,665.82 L71.00,665.45 L71.20,665.27 L71.40,665.29 L71.60,665.50 L71.80,665.90 L72.00,666.50 L72.20,667.25 L72.40,668.16 L72.60,669.22 L72.80,670.39 L73.00,671.67 L73.20,673.02 L73.40,674.43 L73.60,675.87 L73.80,677.32 L74.00,678.76 L74.20,680.17 L74.40,681.54 L74.60,682.85 L74.80,684.09 L75.00,685.25 L75.20,686.34 L75.40,687.33 L75.60,688.23 L75.80,689.05 L76.00,689.78 L76.20,690.43 L76.40,691.00 L76.60,691.49 L76.80,691.92 L77.00,692.29 L77.20,692.60 L77.40,692.86 L77.60,693.08 L77.80,693.27 L78.00,693.42 L78.20,693.54 L78.40,693.64 L78.60,693.72 L78.80,693.78 L79.00,693.83 L79.20,693.87 L79.40,693.90 L79.60,693.93 L79.80,693.95 L80.00,693.96 L80.20,693.97 L80.40,693.98 L80.60,693.98 L80.80,693.99 L81.00,693.99 L81.20,693.99 L81.40,694.00 L81.60,694.00 L81.80,694.00 L82.00,694.00 L82.20,694.00 L82.40,694.00 L82.60,694.00 L82.80,694.00 L83.00,694.00 L83.20,694.00 L83.40,694.00 L83.60,694.00 L83.80,694.00 L84.00,694.00 L84.20,694.00 L84.40,694.00 L84.60,694.00 L84.80,694.00 L85.00,694.00 L85.20,694.00 L85.40,694.00 L85.60,694.00 L85.80,694.00 L86.00,694.00 L86.20,694.00 L86.40,694.00 L86.60,694.00 L86.80,694.00 L87.00,694.00 L87.20,694.00 L87.40,694.00 L87.60,694.00 L87.80,694.00 L88.00,694.00 L88.20,694.00 L88.40,694.00 L88.60,694.00 L88.80,694.00 L89.00,694.00 L89.20,694.00 L89.40,694.00 L89.60,694.00 L89.80,694.00 L90,694 Z" fill="#d6d4da" fill-opacity="0.8"/>
<path d="M47.00,693.51 L47.20,693.24 L47.40,692.85 L47.60,692.28 L47.80,691.48 L48.00,690.37 L48.20,688.87 L48.40,686.87 L48.60,684.27 L48.80,680.95 L49.00,676.81 L49.20,671.76 L49.40,665.73 L49.60,658.69 L49.80,650.68 L50.00,641.79 L50.20,632.18 L50.40,622.10 L50.60,611.84 L50.80,601.78 L51.00,592.31 L51.20,583.84 L51.40,576.76 L51.60,571.44 L51.80,568.12 L52.00,567.00 L52.20,567.57 L52.40,569.28 L52.60,572.08 L52.80,575.89 L53.00,580.61 L53.20,586.13 L53.40,592.31 L53.60,598.99 L53.80,606.04 L54.00,613.24 L54.20,620.54 L54.40,627.77 L54.60,634.81 L54.80,641.54 L55.00,647.89 L55.20,653.78 L55.40,659.15 L55.60,663.96 L55.80,668.21 L56.00,671.87 L56.20,674.96 L56.40,677.50 L56.60,679.53 L56.80,681.11 L57.00,682.29 L57.20,683.16 L57.40,683.78 L57.60,684.23 L57.80,684.55 L58.00,684.78 L58.20,684.96 L58.40,685.10 L58.60,685.20 L58.80,685.28 L59.00,685.34 L59.20,685.39 L59.40,685.42 L59.60,685.45 L59.80,685.47 L60.00,685.48 L60.20,685.49 L60.40,685.49 L60.60,685.50 L60.80,685.50 L61.00,685.50 L61.20,685.50 L61.40,685.50 L61.60,685.49 L61.80,685.49 L62.00,685.49 L62.20,685.48 L62.40,685.47 L62.60,685.46 L62.80,685.45 L63.00,685.43 L63.20,685.41 L63.40,685.38 L63.60,685.34 L63.80,685.29 L64.00,685.23 L64.20,685.16 L64.40,685.07 L64.60,684.95 L64.80,684.82 L65.00,684.65 L65.20,684.46 L65.40,684.23 L65.60,683.97 L65.80,683.67 L66.00,683.33 L66.20,682.95 L66.40,682.54 L66.60,682.10 L66.80,681.64 L67.00,681.16 L67.20,680.68 L67.40,680.19 L67.60,679.69 L67.80,679.17 L68.00,678.60 L68.20,677.96 L68.40,677.24 L68.60,676.40 L68.80,675.47 L69.00,674.44 L69.20,673.34 L69.40,672.20 L69.60,671.06 L69.80,669.94 L70.00,668.88 L70.20,667.92 L70.40,667.07 L70.60,666.36 L70.80,665.82 L71.00,665.45 L71.20,665.27 L71.40,665.29 L71.60,665.50 L71.80,665.90 L72.00,666.50 L72.20,667.25 L72.40,668.16 L72.60,669.22 L72.80,670.39 L73.00,671.67 L73.20,673.02 L73.40,674.43 L73.60,675.87 L73.80,677.32 L74.00,678.76 L74.20,680.17 L74.40,681.54 L74.60,682.85 L74.80,684.09 L75.00,685.25 L75.20,686.34 L75.40,687.33 L75.60,688.23 L75.80,689.05 L76.00,689.78 L76.20,690.43 L76.40,691.00 L76.60,691.49 L76.80,691.92 L77.00,692.29 L77.20,692.60 L77.40,692.86 L77.60,693.08 L77.80,693.27 L78.00,693.42 L78.20,693.54" fill="none" stroke="#a09ca8" stroke-width="0.8"/>
<path d="M40,694 L40.00,694.00 L40.20,694.00 L40.40,694.00 L40.60,694.00 L40.80,694.00 L41.00,694.00 L41.20,694.00 L41.40,694.00 L41.60,694.00 L41.80,694.00 L42.00,694.00 L42.20,694.00 L42.40,694.00 L42.60,694.00 L42.80,694.00 L43.00,694.00 L43.20,694.00 L43.40,694.00 L43.60,694.00 L43.80,694.00 L44.00,694.00 L44.20,694.00 L44.40,694.00 L44.60,694.00 L44.80,694.00 L45.00,694.00 L45.20,693.99 L45.40,693.99 L45.60,693.98 L45.80,693.97 L46.00,693.94 L46.20,693.91 L46.40,693.85 L46.60,693.75 L46.80,693.60 L47.00,693.38 L47.20,693.06 L47.40,692.58 L47.60,691.90 L47.80,690.95 L48.00,689.64 L48.20,687.89 L48.40,685.59 L48.60,682.62 L48.80,678.87 L49.00,674.25 L49.20,668.67 L49.40,662.08 L49.60,654.49 L49.80,645.96 L50.00,636.61 L50.20,626.66 L50.40,616.36 L50.60,606.08 L50.80,596.18 L51.00,587.09 L51.20,579.21 L51.40,572.92 L51.60,568.53 L51.80,566.28 L52.00,566.15 L52.20,567.30 L52.40,569.58 L52.60,572.92 L52.80,577.23 L53.00,582.41 L53.20,588.32 L53.40,594.82 L53.60,601.76 L53.80,608.99 L54.00,616.32 L54.20,623.67 L54.40,630.90 L54.60,637.88 L54.80,644.51 L55.00,650.73 L55.20,656.47 L55.40,661.69 L55.60,666.36 L55.80,670.48 L56.00,674.04 L56.20,677.07 L56.40,679.59 L56.60,681.64 L56.80,683.27 L57.00,684.54 L57.20,685.52 L57.40,686.25 L57.60,686.81 L57.80,687.22 L58.00,687.54 L58.20,687.78 L58.40,687.97 L58.60,688.11 L58.80,688.21 L59.00,688.29 L59.20,688.35 L59.40,688.40 L59.60,688.43 L59.80,688.45 L60.00,688.47 L60.20,688.48 L60.40,688.49 L60.60,688.49 L60.80,688.50 L61.00,688.50 L61.20,688.50 L61.40,688.50 L61.60,688.49 L61.80,688.49 L62.00,688.49 L62.20,688.49 L62.40,688.48 L62.60,688.47 L62.80,688.46 L63.00,688.45 L63.20,688.43 L63.40,688.41 L63.60,688.39 L63.80,688.35 L64.00,688.31 L64.20,688.25 L64.40,688.19 L64.60,688.11 L64.80,688.01 L65.00,687.89 L65.20,687.75 L65.40,687.58 L65.60,687.39 L65.80,687.17 L66.00,686.92 L66.20,686.64 L66.40,686.33 L66.60,686.00 L66.80,685.65 L67.00,685.29 L67.20,684.91 L67.40,684.52 L67.60,684.12 L67.80,683.70 L68.00,683.25 L68.20,682.74 L68.40,682.17 L68.60,681.54 L68.80,680.83 L69.00,680.06 L69.20,679.25 L69.40,678.41 L69.60,677.58 L69.80,676.76 L70.00,676.00 L70.20,675.30 L70.40,674.68 L70.60,674.17 L70.80,673.78 L71.00,673.52 L71.20,673.39 L71.40,673.39 L71.60,673.54 L71.80,673.83 L72.00,674.26 L72.20,674.80 L72.40,675.45 L72.60,676.21 L72.80,677.05 L73.00,677.97 L73.20,678.94 L73.40,679.95 L73.60,680.99 L73.80,682.03 L74.00,683.06 L74.20,684.07 L74.40,685.06 L74.60,686.00 L74.80,686.89 L75.00,687.72 L75.20,688.50 L75.40,689.21 L75.60,689.86 L75.80,690.45 L76.00,690.97 L76.20,691.44 L76.40,691.85 L76.60,692.20 L76.80,692.51 L77.00,692.77 L77.20,693.00 L77.40,693.19 L77.60,693.34 L77.80,693.47 L78.00,693.58 L78.20,693.67 L78.40,693.74 L78.60,693.80 L78.80,693.84 L79.00,693.88 L79.20,693.91 L79.40,693.93 L79.60,693.95 L79.80,693.96 L80.00,693.97 L80.20,693.98 L80.40,693.98 L80.60,693.99 L80.80,693.99 L81.00,693.99 L81.20,694.00 L81.40,694.00 L81.60,694.00 L81.80,694.00 L82.00,694.00 L82.20,694.00 L82.40,694.00 L82.60,694.00 L82.80,694.00 L83.00,694.00 L83.20,694.00 L83.40,694.00 L83.60,694.00 L83.80,694.00 L84.00,694.00 L84.20,694.00 L84.40,694.00 L84.60,694.00 L84.80,694.00 L85.00,694.00 L85.20,694.00 L85.40,694.00 L85.60,694.00 L85.80,694.00 L86.00,694.00 L86.20,694.00 L86.40,694.00 L86.60,694.00 L86.80,694.00 L87.00,694.00 L87.20,694.00 L87.40,694.00 L87.60,694.00 L87.80,694.00 L88.00,694.00 L88.20,694.00 L88.40,694.00 L88.60,694.00 L88.80,694.00 L89.00,694.00 L89.20,694.00 L89.40,694.00 L89.60,694.00 L89.80,694.00 L90,694 Z" fill="#74bce6" fill-opacity="0.75"/>
<path d="M47.00,693.38 L47.20,693.06 L47.40,692.58 L47.60,691.90 L47.80,690.95 L48.00,689.64 L48.20,687.89 L48.40,685.59 L48.60,682.62 L48.80,678.87 L49.00,674.25 L49.20,668.67 L49.40,662.08 L49.60,654.49 L49.80,645.96 L50.00,636.61 L50.20,626.66 L50.40,616.36 L50.60,606.08 L50.80,596.18 L51.00,587.09 L51.20,579.21 L51.40,572.92 L51.60,568.53 L51.80,566.28 L52.00,566.15 L52.20,567.30 L52.40,569.58 L52.60,572.92 L52.80,577.23 L53.00,582.41 L53.20,588.32 L53.40,594.82 L53.60,601.76 L53.80,608.99 L54.00,616.32 L54.20,623.67 L54.40,630.90 L54.60,637.88 L54.80,644.51 L55.00,650.73 L55.20,656.47 L55.40,661.69 L55.60,666.36 L55.80,670.48 L56.00,674.04 L56.20,677.07 L56.40,679.59 L56.60,681.64 L56.80,683.27 L57.00,684.54 L57.20,685.52 L57.40,686.25 L57.60,686.81 L57.80,687.22 L58.00,687.54 L58.20,687.78 L58.40,687.97 L58.60,688.11 L58.80,688.21 L59.00,688.29 L59.20,688.35 L59.40,688.40 L59.60,688.43 L59.80,688.45 L60.00,688.47 L60.20,688.48 L60.40,688.49 L60.60,688.49 L60.80,688.50 L61.00,688.50 L61.20,688.50 L61.40,688.50 L61.60,688.49 L61.80,688.49 L62.00,688.49 L62.20,688.49 L62.40,688.48 L62.60,688.47 L62.80,688.46 L63.00,688.45 L63.20,688.43 L63.40,688.41 L63.60,688.39 L63.80,688.35 L64.00,688.31 L64.20,688.25 L64.40,688.19 L64.60,688.11 L64.80,688.01 L65.00,687.89 L65.20,687.75 L65.40,687.58 L65.60,687.39 L65.80,687.17 L66.00,686.92 L66.20,686.64 L66.40,686.33 L66.60,686.00 L66.80,685.65 L67.00,685.29 L67.20,684.91 L67.40,684.52 L67.60,684.12 L67.80,683.70 L68.00,683.25 L68.20,682.74 L68.40,682.17 L68.60,681.54 L68.80,680.83 L69.00,680.06 L69.20,679.25 L69.40,678.41 L69.60,677.58 L69.80,676.76 L70.00,676.00 L70.20,675.30 L70.40,674.68 L70.60,674.17 L70.80,673.78 L71.00,673.52 L71.20,673.39 L71.40,673.39 L71.60,673.54 L71.80,673.83 L72.00,674.26 L72.20,674.80 L72.40,675.45 L72.60,676.21 L72.80,677.05 L73.00,677.97 L73.20,678.94 L73.40,679.95 L73.60,680.99 L73.80,682.03 L74.00,683.06 L74.20,684.07 L74.40,685.06 L74.60,686.00 L74.80,686.89 L75.00,687.72 L75.20,688.50 L75.40,689.21 L75.60,689.86 L75.80,690.45 L76.00,690.97 L76.20,691.44 L76.40,691.85 L76.60,692.20 L76.80,692.51 L77.00,692.77 L77.20,693.00 L77.40,693.19 L77.60,693.34 L77.80,693.47 L78.00,693.58" fill="none" stroke="#36a4d4" stroke-width="0.8"/>
<path d="M40,694 L40.00,694.00 L40.20,694.00 L40.40,694.00 L40.60,694.00 L40.80,694.00 L41.00,694.00 L41.20,694.00 L41.40,694.00 L41.60,694.00 L41.80,694.00 L42.00,694.00 L42.20,694.00 L42.40,694.00 L42.60,694.00 L42.80,694.00 L43.00,694.00 L43.20,694.00 L43.40,694.00 L43.60,694.00 L43.80,694.00 L44.00,694.00 L44.20,694.00 L44.40,694.00 L44.60,694.00 L44.80,694.00 L45.00,694.00 L45.20,694.00 L45.40,693.99 L45.60,693.99 L45.80,693.98 L46.00,693.97 L46.20,693.95 L46.40,693.93 L46.60,693.89 L46.80,693.83 L47.00,693.74 L47.20,693.61 L47.40,693.42 L47.60,693.16 L47.80,692.80 L48.00,692.30 L48.20,691.64 L48.40,690.75 L48.60,689.59 L48.80,688.11 L49.00,686.23 L49.20,683.89 L49.40,681.03 L49.60,677.59 L49.80,673.52 L50.00,668.79 L50.20,663.40 L50.40,657.37 L50.60,650.75 L50.80,643.64 L51.00,636.17 L51.20,628.49 L51.40,620.82 L51.60,613.38 L51.80,606.40 L52.00,600.12 L52.20,594.78 L52.40,590.57 L52.60,587.67 L52.80,586.19 L53.00,586.12 L53.20,587.10 L53.40,589.02 L53.60,591.84 L53.80,595.48 L54.00,599.84 L54.20,604.82 L54.40,610.30 L54.60,616.15 L54.80,622.24 L55.00,628.45 L55.20,634.65 L55.40,640.74 L55.60,646.63 L55.80,652.23 L56.00,657.47 L56.20,662.32 L56.40,666.74 L56.60,670.71 L56.80,674.24 L57.00,677.34 L57.20,680.03 L57.40,682.34 L57.60,684.31 L57.80,685.96 L58.00,687.34 L58.20,688.48 L58.40,689.42 L58.60,690.17 L58.80,690.78 L59.00,691.26 L59.20,691.63 L59.40,691.93 L59.60,692.15 L59.80,692.32 L60.00,692.45 L60.20,692.55 L60.40,692.62 L60.60,692.67 L60.80,692.71 L61.00,692.74 L61.20,692.76 L61.40,692.77 L61.60,692.78 L61.80,692.79 L62.00,692.79 L62.20,692.79 L62.40,692.79 L62.60,692.79 L62.80,692.79 L63.00,692.79 L63.20,692.79 L63.40,692.79 L63.60,692.78 L63.80,692.78 L64.00,692.77 L64.20,692.77 L64.40,692.76 L64.60,692.75 L64.80,692.73 L65.00,692.72 L65.20,692.70 L65.40,692.68 L65.60,692.65 L65.80,692.62 L66.00,692.58 L66.20,692.54 L66.40,692.50 L66.60,692.46 L66.80,692.41 L67.00,692.35 L67.20,692.30 L67.40,692.24 L67.60,692.18 L67.80,692.10 L68.00,692.02 L68.20,691.92 L68.40,691.80 L68.60,691.65 L68.80,691.47 L69.00,691.27 L69.20,691.04 L69.40,690.79 L69.60,690.52 L69.80,690.24 L70.00,689.95 L70.20,689.66 L70.40,689.36 L70.60,689.07 L70.80,688.79 L71.00,688.53 L71.20,688.28 L71.40,688.06 L71.60,687.87 L71.80,687.70 L72.00,687.57 L72.20,687.48 L72.40,687.42 L72.60,687.40 L72.80,687.42 L73.00,687.48 L73.20,687.57 L73.40,687.71 L73.60,687.87 L73.80,688.07 L74.00,688.29 L74.20,688.54 L74.40,688.81 L74.60,689.09 L74.80,689.39 L75.00,689.69 L75.20,690.00 L75.40,690.30 L75.60,690.61 L75.80,690.91 L76.00,691.19 L76.20,691.47 L76.40,691.73 L76.60,691.98 L76.80,692.21 L77.00,692.42 L77.20,692.62 L77.40,692.80 L77.60,692.96 L77.80,693.11 L78.00,693.24 L78.20,693.35 L78.40,693.45 L78.60,693.54 L78.80,693.62 L79.00,693.68 L79.20,693.74 L79.40,693.78 L79.60,693.82 L79.80,693.86 L80.00,693.89 L80.20,693.91 L80.40,693.93 L80.60,693.94 L80.80,693.95 L81.00,693.96 L81.20,693.97 L81.40,693.98 L81.60,693.98 L81.80,693.99 L82.00,693.99 L82.20,693.99 L82.40,693.99 L82.60,694.00 L82.80,694.00 L83.00,694.00 L83.20,694.00 L83.40,694.00 L83.60,694.00 L83.80,694.00 L84.00,694.00 L84.20,694.00 L84.40,694.00 L84.60,694.00 L84.80,694.00 L85.00,694.00 L85.20,694.00 L85.40,694.00 L85.60,694.00 L85.80,694.00 L86.00,694.00 L86.20,694.00 L86.40,694.00 L86.60,694.00 L86.80,694.00 L87.00,694.00 L87.20,694.00 L87.40,694.00 L87.60,694.00 L87.80,694.00 L88.00,694.00 L88.20,694.00 L88.40,694.00 L88.60,694.00 L88.80,694.00 L89.00,694.00 L89.20,694.00 L89.40,694.00 L89.60,694.00 L89.80,694.00 L90,694 Z" fill="#d84a9c" fill-opacity="0.68"/>
<path d="M47.40,693.42 L47.60,693.16 L47.80,692.80 L48.00,692.30 L48.20,691.64 L48.40,690.75 L48.60,689.59 L48.80,688.11 L49.00,686.23 L49.20,683.89 L49.40,681.03 L49.60,677.59 L49.80,673.52 L50.00,668.79 L50.20,663.40 L50.40,657.37 L50.60,650.75 L50.80,643.64 L51.00,636.17 L51.20,628.49 L51.40,620.82 L51.60,613.38 L51.80,606.40 L52.00,600.12 L52.20,594.78 L52.40,590.57 L52.60,587.67 L52.80,586.19 L53.00,586.12 L53.20,587.10 L53.40,589.02 L53.60,591.84 L53.80,595.48 L54.00,599.84 L54.20,604.82 L54.40,610.30 L54.60,616.15 L54.80,622.24 L55.00,628.45 L55.20,634.65 L55.40,640.74 L55.60,646.63 L55.80,652.23 L56.00,657.47 L56.20,662.32 L56.40,666.74 L56.60,670.71 L56.80,674.24 L57.00,677.34 L57.20,680.03 L57.40,682.34 L57.60,684.31 L57.80,685.96 L58.00,687.34 L58.20,688.48 L58.40,689.42 L58.60,690.17 L58.80,690.78 L59.00,691.26 L59.20,691.63 L59.40,691.93 L59.60,692.15 L59.80,692.32 L60.00,692.45 L60.20,692.55 L60.40,692.62 L60.60,692.67 L60.80,692.71 L61.00,692.74 L61.20,692.76 L61.40,692.77 L61.60,692.78 L61.80,692.79 L62.00,692.79 L62.20,692.79 L62.40,692.79 L62.60,692.79 L62.80,692.79 L63.00,692.79 L63.20,692.79 L63.40,692.79 L63.60,692.78 L63.80,692.78 L64.00,692.77 L64.20,692.77 L64.40,692.76 L64.60,692.75 L64.80,692.73 L65.00,692.72 L65.20,692.70 L65.40,692.68 L65.60,692.65 L65.80,692.62 L66.00,692.58 L66.20,692.54 L66.40,692.50 L66.60,692.46 L66.80,692.41 L67.00,692.35 L67.20,692.30 L67.40,692.24 L67.60,692.18 L67.80,692.10 L68.00,692.02 L68.20,691.92 L68.40,691.80 L68.60,691.65 L68.80,691.47 L69.00,691.27 L69.20,691.04 L69.40,690.79 L69.60,690.52 L69.80,690.24 L70.00,689.95 L70.20,689.66 L70.40,689.36 L70.60,689.07 L70.80,688.79 L71.00,688.53 L71.20,688.28 L71.40,688.06 L71.60,687.87 L71.80,687.70 L72.00,687.57 L72.20,687.48 L72.40,687.42 L72.60,687.40 L72.80,687.42 L73.00,687.48 L73.20,687.57 L73.40,687.71 L73.60,687.87 L73.80,688.07 L74.00,688.29 L74.20,688.54 L74.40,688.81 L74.60,689.09 L74.80,689.39 L75.00,689.69 L75.20,690.00 L75.40,690.30 L75.60,690.61 L75.80,690.91 L76.00,691.19 L76.20,691.47 L76.40,691.73 L76.60,691.98 L76.80,692.21 L77.00,692.42 L77.20,692.62 L77.40,692.80 L77.60,692.96 L77.80,693.11 L78.00,693.24 L78.20,693.35 L78.40,693.45 L78.60,693.54" fill="none" stroke="#c8187a" stroke-width="0.8"/>
<line x1="30.2" y1="547.4" x2="30.2" y2="694.6" stroke="#222" stroke-width="1.2"/>
<line x1="29.5" y1="694.2" x2="178" y2="694.2" stroke="#222" stroke-width="1"/>
<path d="M55.6,561.5 V567 M55.6,564.2 H66.6 M66.6,561.5 V567" stroke="#222" stroke-width="0.9" fill="none"/>
<text x="60.8" y="561.6" font-size="6.6" fill="#222" text-anchor="middle" font-weight="normal" font-style="normal" stroke="#222" stroke-width="0.22" >S</text>
<path d="M66,573 V579.3 M66,576 H84.3 M84.3,573 V579.3" stroke="#222" stroke-width="0.9" fill="none"/>
<text x="75.4" y="574.5" font-size="6.6" fill="#222" text-anchor="middle" font-weight="normal" font-style="normal" textLength="17" lengthAdjust="spacingAndGlyphs" stroke="#222" stroke-width="0.22" >G2-M</text>
<path d="M45.4,652.5 V660.5 M45.4,656.4 H56.4 M56.4,652.5 V660.5" stroke="#222" stroke-width="0.9" fill="none"/>
<text x="35.3" y="658.3" font-size="6.6" fill="#333" text-anchor="start" font-weight="normal" font-style="normal" textLength="9" lengthAdjust="spacingAndGlyphs" stroke="#333" stroke-width="0.22" >G1</text>
<rect x="136.2" y="562.4" width="7.6" height="6.1" fill="#f27fb9" stroke="#c4306e" stroke-width="0.8"/>
<rect x="136.2" y="572.4" width="7.6" height="6.1" fill="#94d2f2" stroke="#3a9cc4" stroke-width="0.8"/>
<rect x="136.2" y="583" width="7.6" height="5.8" fill="#e6e2ea" stroke="#9a94a2" stroke-width="0.8"/>
<text x="147" y="567.6" font-size="6.5" fill="#333" text-anchor="start" font-weight="normal" font-style="normal" stroke="#333" stroke-width="0.22" >sh1</text>
<text x="147" y="577.6" font-size="6.5" fill="#333" text-anchor="start" font-weight="normal" font-style="normal" stroke="#333" stroke-width="0.22" >sh4</text>
<text x="147" y="588" font-size="6.5" fill="#333" text-anchor="start" font-weight="normal" font-style="normal" stroke="#333" stroke-width="0.22" >scrbl</text>
<text x="82.8" y="705.8" font-size="8.6" fill="#222" text-anchor="start" font-weight="normal" font-style="normal" textLength="43" lengthAdjust="spacingAndGlyphs" stroke="#222" stroke-width="0.35" >Hoechst 33342</text>
<text x="199.2" y="531.5" font-size="13.5" fill="#111" text-anchor="start" font-weight="bold" font-style="normal" >H</text>
<line x1="241.4" y1="546.8" x2="241.4" y2="694.6" stroke="#222" stroke-width="1"/>
<line x1="241" y1="694.2" x2="462.6" y2="694.2" stroke="#222" stroke-width="1"/>
<line x1="237.5" y1="561.2" x2="241.4" y2="561.2" stroke="#222" stroke-width="0.9"/>
<text x="235.2" y="563.7" font-size="7" fill="#333" text-anchor="end" font-weight="normal" font-style="normal" stroke="#333" stroke-width="0.08" >100</text>
<line x1="237.5" y1="627.7" x2="241.4" y2="627.7" stroke="#222" stroke-width="0.9"/>
<text x="235.2" y="630.2" font-size="7" fill="#333" text-anchor="end" font-weight="normal" font-style="normal" stroke="#333" stroke-width="0.08" >50</text>
<line x1="237.5" y1="694.2" x2="241.4" y2="694.2" stroke="#222" stroke-width="0.9"/>
<text x="235.2" y="696.7" font-size="7" fill="#333" text-anchor="end" font-weight="normal" font-style="normal" stroke="#333" stroke-width="0.08" >0</text>
<text transform="translate(217.4,642) rotate(-90)" font-size="8.5" fill="#222" stroke="#222" stroke-width="0.25" textLength="41.5" lengthAdjust="spacingAndGlyphs">% of live cells</text>
<rect x="248.90" y="614.40" width="9.9" height="79.80" fill="#5e1b6c"/>
<line x1="251.70" y1="613.20" x2="255.70" y2="613.20" stroke="#5e1b6c" stroke-width="0.8"/>
<rect x="264.20" y="679.57" width="9.9" height="14.63" fill="#cbcbcd"/>
<line x1="267.00" y1="678.37" x2="271.00" y2="678.37" stroke="#cbcbcd" stroke-width="0.8"/>
<rect x="279.50" y="654.70" width="9.9" height="39.50" fill="#4a5870"/>
<line x1="282.30" y1="653.50" x2="286.30" y2="653.50" stroke="#4a5870" stroke-width="0.8"/>
<line x1="269.00" y1="694.2" x2="269.00" y2="697" stroke="#222" stroke-width="0.8"/>
<text x="269.0" y="706.4" font-size="7" fill="#333" text-anchor="middle" font-weight="normal" font-style="normal" stroke="#333" stroke-width="0.08" >scrbl</text>
<rect x="304.20" y="579.82" width="9.9" height="114.38" fill="#5e1b6c"/>
<line x1="307.00" y1="578.62" x2="311.00" y2="578.62" stroke="#5e1b6c" stroke-width="0.8"/>
<rect x="319.50" y="690.74" width="9.9" height="3.46" fill="#cbcbcd"/>
<line x1="322.30" y1="689.54" x2="326.30" y2="689.54" stroke="#cbcbcd" stroke-width="0.8"/>
<rect x="334.80" y="679.57" width="9.9" height="14.63" fill="#4a5870"/>
<line x1="337.60" y1="678.37" x2="341.60" y2="678.37" stroke="#4a5870" stroke-width="0.8"/>
<line x1="324.30" y1="694.2" x2="324.30" y2="697" stroke="#222" stroke-width="0.8"/>
<text x="324.3" y="706.4" font-size="7" fill="#333" text-anchor="middle" font-weight="normal" font-style="normal" stroke="#333" stroke-width="0.08" >sh1</text>
<rect x="359.50" y="598.84" width="9.9" height="95.36" fill="#5e1b6c"/>
<line x1="362.30" y1="597.64" x2="366.30" y2="597.64" stroke="#5e1b6c" stroke-width="0.8"/>
<rect x="374.80" y="686.88" width="9.9" height="7.32" fill="#cbcbcd"/>
<line x1="377.60" y1="685.68" x2="381.60" y2="685.68" stroke="#cbcbcd" stroke-width="0.8"/>
<rect x="390.10" y="663.88" width="9.9" height="30.32" fill="#4a5870"/>
<line x1="392.90" y1="662.68" x2="396.90" y2="662.68" stroke="#4a5870" stroke-width="0.8"/>
<line x1="379.60" y1="694.2" x2="379.60" y2="697" stroke="#222" stroke-width="0.8"/>
<text x="379.6" y="706.4" font-size="7" fill="#333" text-anchor="middle" font-weight="normal" font-style="normal" stroke="#333" stroke-width="0.08" >sh4</text>
<rect x="414.80" y="614.67" width="9.9" height="79.53" fill="#5e1b6c"/>
<line x1="417.60" y1="613.47" x2="421.60" y2="613.47" stroke="#5e1b6c" stroke-width="0.8"/>
<rect x="430.10" y="679.57" width="9.9" height="14.63" fill="#cbcbcd"/>
<line x1="432.90" y1="678.37" x2="436.90" y2="678.37" stroke="#cbcbcd" stroke-width="0.8"/>
<rect x="445.40" y="654.57" width="9.9" height="39.63" fill="#4a5870"/>
<line x1="448.20" y1="653.37" x2="452.20" y2="653.37" stroke="#4a5870" stroke-width="0.8"/>
<line x1="434.90" y1="694.2" x2="434.90" y2="697" stroke="#222" stroke-width="0.8"/>
<text x="434.9" y="706.4" font-size="7" fill="#333" text-anchor="middle" font-weight="normal" font-style="normal" stroke="#333" stroke-width="0.08" >scrbl</text>
<path d="M268.1,674.1 V532.5 H324.4 V681.9" fill="none" stroke="#c6c6c8" stroke-width="0.9"/>
<path d="M283.5,647.3 V556.5 H337.5 V672.4" fill="none" stroke="#3c4458" stroke-width="1.0"/>
<path d="M378.6,684.6 V532.5 H435.4 V672.0" fill="none" stroke="#c6c6c8" stroke-width="0.9"/>
<path d="M394.7,653.5 V556.8 H448.8 V644.2" fill="none" stroke="#3c4458" stroke-width="1.0"/>
<circle cx="291.28" cy="526.3" r="1.25" fill="#b8b8bc"/>
<circle cx="294.62" cy="526.3" r="1.25" fill="#b8b8bc"/>
<circle cx="297.98" cy="526.3" r="1.25" fill="#b8b8bc"/>
<circle cx="301.32" cy="526.3" r="1.25" fill="#b8b8bc"/>
<circle cx="401.98" cy="526.3" r="1.25" fill="#b8b8bc"/>
<circle cx="405.32" cy="526.3" r="1.25" fill="#b8b8bc"/>
<circle cx="408.68" cy="526.3" r="1.25" fill="#b8b8bc"/>
<circle cx="412.02" cy="526.3" r="1.25" fill="#b8b8bc"/>
<circle cx="305.78" cy="551.7" r="1.25" fill="#3c4458"/>
<circle cx="309.12" cy="551.7" r="1.25" fill="#3c4458"/>
<circle cx="312.48" cy="551.7" r="1.25" fill="#3c4458"/>
<circle cx="315.82" cy="551.7" r="1.25" fill="#3c4458"/>
<circle cx="416.78" cy="552.0" r="1.25" fill="#3c4458"/>
<circle cx="420.12" cy="552.0" r="1.25" fill="#3c4458"/>
<circle cx="423.48" cy="552.0" r="1.25" fill="#3c4458"/>
<circle cx="426.82" cy="552.0" r="1.25" fill="#3c4458"/>
<path d="M251,568.4 V574.8000000000001 M251,571.6 H308.7 M308.7,568.4 V574.8000000000001" fill="none" stroke="#654578" stroke-width="1"/>
<path d="M362.5,583.0 V589.4000000000001 M362.5,586.2 H420.0 M420.0,583.0 V589.4000000000001" fill="none" stroke="#654578" stroke-width="1"/>
<circle cx="274.88" cy="566.2" r="1.25" fill="#654578"/>
<circle cx="278.22" cy="566.2" r="1.25" fill="#654578"/>
<circle cx="281.57" cy="566.2" r="1.25" fill="#654578"/>
<circle cx="284.92" cy="566.2" r="1.25" fill="#654578"/>
<circle cx="386.48" cy="581.6" r="1.25" fill="#654578"/>
<circle cx="389.82" cy="581.6" r="1.25" fill="#654578"/>
<circle cx="393.18" cy="581.6" r="1.25" fill="#654578"/>
<circle cx="396.52" cy="581.6" r="1.25" fill="#654578"/>
<rect x="476.8" y="553.5" width="15.9" height="11.1" fill="#5e1b6c" stroke="#3e1048" stroke-width="0.6"/>
<rect x="476.8" y="570.4" width="15.9" height="10.6" fill="#cbcbcd"/>
<rect x="476.8" y="587.3" width="15.9" height="10.6" fill="#4a5870" stroke="#384458" stroke-width="0.6"/>
<text x="496" y="561.6" font-size="6.6" fill="#333" text-anchor="start" font-weight="normal" font-style="normal" stroke="#333" stroke-width="0.05" >G1</text>
<text x="496" y="578.5" font-size="6.6" fill="#333" text-anchor="start" font-weight="normal" font-style="normal" stroke="#333" stroke-width="0.05" >S</text>
<text x="496" y="595.4" font-size="6.6" fill="#333" text-anchor="start" font-weight="normal" font-style="normal" textLength="16.4" lengthAdjust="spacingAndGlyphs" stroke="#333" stroke-width="0.05" >G2/M</text>
<rect x="0.5" y="0.5" width="519" height="715" fill="none" stroke="#5a5a5a" stroke-width="1"/>
</svg></body></html>
